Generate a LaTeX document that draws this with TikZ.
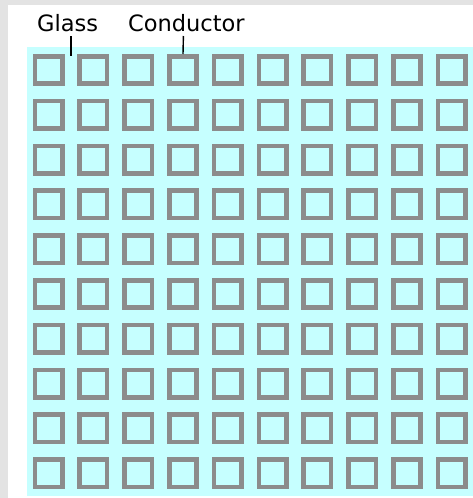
\documentclass[tikz,border=0pt]{standalone}
\usepackage{fontspec}
\setmainfont{DejaVu Sans}
\definecolor{bggray}{HTML}{E3E3E3}
\definecolor{glasscyan}{HTML}{C6FFFF}
\definecolor{condgray}{HTML}{8C8C8C}
\begin{document}
\begin{tikzpicture}[x=1pt,y=-1pt,
  cell/.style={draw=condgray, line width=4.6pt, minimum size=27.4pt, inner sep=0pt, fill=none},
  lbl/.style={anchor=base west, inner sep=0pt, font=\fontsize{22.5}{24}\selectfont},
  leader/.style={draw=black, line width=1.4pt}]
\useasboundingbox (0,0) rectangle (473,498);
\fill[bggray] (0,0) rectangle (473,498);
\fill[white] (8,5) rectangle (473,498);
\fill[glasscyan] (27,47) rectangle (473,496);
\foreach \r in {0,...,9}{
  \foreach \c in {0,...,9}{
    \node[cell] (s-\r-\c) at ({48.6+44.8*\c},{70+44.8*\r}) {};
  }
}
\node[lbl] (glass) at (37,31.5) {Glass};
\node[lbl] (cond) at (128,31.5) {Conductor};
\coordinate (gtop) at (71,36);
\coordinate (gbot) at (71,56);
\coordinate (ctop) at (183.4,36);
\draw[leader] (gtop) -- (gbot);
\draw[leader] (ctop) -- (s-0-3.north);
\end{tikzpicture}
\end{document}
